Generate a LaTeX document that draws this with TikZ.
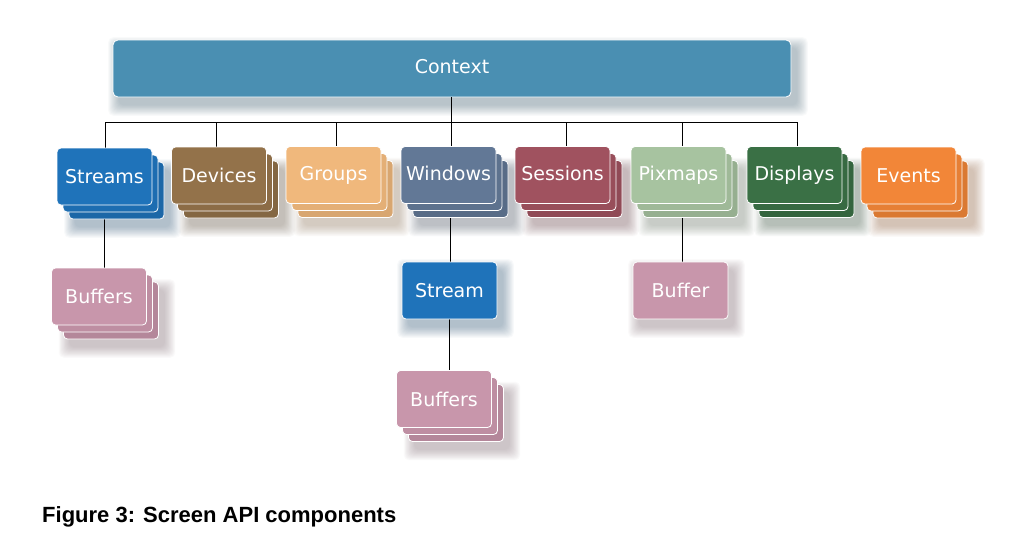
\documentclass[tikz,border=0pt]{standalone}
\usepackage{fontspec}
\usetikzlibrary{calc}
\newfontfamily\boxfont{DejaVu Sans}
\newfontfamily\capfont{Liberation Sans}
\definecolor{ctxc}{RGB}{74,143,178}
\definecolor{strc}{RGB}{31,115,186}
\definecolor{devc}{RGB}{147,114,74}
\definecolor{grpc}{RGB}{240,184,124}
\definecolor{winc}{RGB}{98,120,150}
\definecolor{sesc}{RGB}{160,82,95}
\definecolor{pixc}{RGB}{167,195,160}
\definecolor{disc}{RGB}{58,112,69}
\definecolor{evtc}{RGB}{242,134,56}
\definecolor{bufc}{RGB}{200,150,171}
\pgfdeclarelayer{shadowlayer}
\pgfsetlayers{shadowlayer,main}
\newcommand\softshadow[2]{%
  \begin{pgfonlayer}{shadowlayer}
  \foreach \i in {0,...,13}{%
    \fill[#2!50!black, opacity=0.026, rounded corners=5pt]
      ($(#1.north west)+(6-\i*0.8,8-\i*0.8)$) rectangle ($(#1.south east)+(6+\i*0.8,8+\i*0.8)$);}
  \end{pgfonlayer}}
\newcommand\mystack[4]{%
  \node[card, fill=#3!90!black] (#1-c) at ($(#2)+(12,14)$) {};
  \node[card, fill=#3!95!black] (#1-b) at ($(#2)+(6,7)$) {};
  \node[card, fill=#3] (#1) at (#2) {#4};
  \softshadow{#1-c}{#3}}
\begin{document}
\begin{tikzpicture}[x=1pt,y=-1pt,
  card/.style={rounded corners=4pt, draw=white, line width=0.8pt,
    minimum width=95pt, minimum height=57pt, text=white, inner sep=0pt,
    font=\boxfont\fontsize{19}{22}\selectfont},
  link/.style={draw=black, line width=0.8pt}]
\useasboundingbox (0,0) rectangle (1018,549);
% context
\node[rounded corners=5pt, fill=ctxc, draw=white, line width=0.8pt,
  minimum width=678pt, minimum height=57pt, inner sep=0pt, text=white,
  font=\boxfont\fontsize{19}{22}\selectfont] (context) at (452,68.5) {\raisebox{4pt}{Context}};
\softshadow{context}{ctxc}
% bus coordinates
\coordinate (d1) at (105,122);
\coordinate (d2) at (216,122);
\coordinate (d3) at (336,122);
\coordinate (d4) at (451,122);
\coordinate (d5) at (566,122);
\coordinate (d6) at (682,122);
\coordinate (d7) at (797,122);
\coordinate (v1) at (104,205);
\coordinate (v2) at (450,205);
\coordinate (v3) at (682,205);
\coordinate (v4) at (449,319);
% connectors (behind cards)
\draw[link] (context.south -| d4) -- (d4);
\draw[link] (d1) -- (d7);
\foreach \d in {d1,d2,d3,d4,d5,d6,d7} \draw[link] (\d) -- ++(0,30);
\draw[link] (v1) -- (104,268);
\draw[link] (v2) -- (450,262);
\draw[link] (v3) -- (682,262);
\draw[link] (v4) -- (449,371);
% cards
\mystack{streams}{104.5,176.5}{strc}{Streams}
\mystack{devices}{219,175.5}{devc}{Devices}
\mystack{groups}{333.5,175}{grpc}{\raisebox{3pt}{Groups}}
\mystack{windows}{448.5,175}{winc}{\raisebox{3pt}{Windows}}
\mystack{sessions}{562.5,175}{sesc}{\raisebox{3pt}{Sessions}}
\mystack{pixmaps}{678.5,175}{pixc}{Pixmaps}
\mystack{displays}{794.5,175}{disc}{\raisebox{4pt}{Displays}}
\mystack{events}{908.5,175.5}{evtc}{Events}
\mystack{buffersl}{99,296.5}{bufc}{Buffers}
\mystack{buffersm}{444,399}{bufc}{Buffers}
\node[card, fill=strc] (stream) at (449.5,290.5) {Stream};
\softshadow{stream}{strc}
\node[card, fill=bufc] (buffer) at (680.5,290.5) {Buffer};
\softshadow{buffer}{bufc}
% caption
\node[anchor=base west, inner sep=0pt, font=\capfont\bfseries\fontsize{22}{26}\selectfont] (caption) at (42,522) {Figure 3: Screen API components};
\end{tikzpicture}
\end{document}
